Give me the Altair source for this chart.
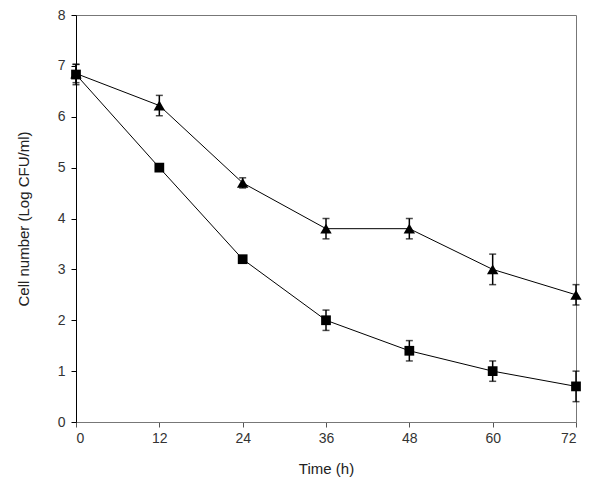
import altair as alt
import pandas as pd

time_h = [0, 12, 24, 36, 48, 60, 72]
tri_mean = [6.85, 6.22, 4.70, 3.80, 3.80, 3.00, 2.50]
tri_err = [0.18, 0.20, 0.10, 0.20, 0.20, 0.30, 0.20]
sq_mean = [6.83, 5.00, 3.20, 2.00, 1.40, 1.00, 0.70]
sq_err = [0.20, 0.06, 0.06, 0.20, 0.20, 0.20, 0.30]

rows = []
for t, m, e in zip(time_h, tri_mean, tri_err):
    rows.append({"time": t, "mean": m, "lo": m - e, "hi": m + e, "series": "tri"})
for t, m, e in zip(time_h, sq_mean, sq_err):
    rows.append({"time": t, "mean": m, "lo": m - e, "hi": m + e, "series": "sq"})
df = pd.DataFrame(rows)

xscale = alt.Scale(domain=[0, 72], nice=False, zero=False)
yscale = alt.Scale(domain=[0, 8], nice=False)

xenc = alt.X("time:Q", scale=xscale,
             axis=alt.Axis(values=time_h, title="Time (h)", grid=False,
                           tickSize=5, labelPadding=4, titlePadding=16,
                           domainColor="#777", tickColor="#555"))
yenc = alt.Y("mean:Q", scale=yscale,
             axis=alt.Axis(values=list(range(0, 9)), title="Cell number (Log CFU/ml)",
                           grid=False, tickSize=5, labelPadding=6, titlePadding=26,
                           domainColor="#000", tickColor="#000"))

base = alt.Chart(df)

lines = base.mark_line(color="black", strokeWidth=1).encode(
    x=xenc, y=yenc, detail="series:N")

bars = base.mark_rule(color="black", strokeWidth=1.5).encode(
    x="time:Q", y="lo:Q", y2="hi:Q")

caps_hi = base.mark_tick(color="black", thickness=1.5, size=7, orient="horizontal").encode(
    x="time:Q", y="hi:Q")
caps_lo = base.mark_tick(color="black", thickness=1.5, size=7, orient="horizontal").encode(
    x="time:Q", y="lo:Q")

tri = base.transform_filter(alt.datum.series == "tri").mark_point(
    shape="triangle-up", filled=True, color="black", opacity=1, size=130).encode(
    x="time:Q", y="mean:Q")
sq = base.transform_filter(alt.datum.series == "sq").mark_point(
    shape="square", filled=True, color="black", opacity=1, size=95).encode(
    x="time:Q", y="mean:Q")

chart = alt.layer(lines, bars, caps_hi, caps_lo, tri, sq).properties(
    width=500, height=407,
    autosize=alt.AutoSizeParams(type="none"),
    padding={"left": 68, "top": 7, "right": 10, "bottom": 60},
).configure_view(stroke="#777", strokeWidth=1).configure_axis(
    labelFont="Liberation Sans", titleFont="Liberation Sans",
    labelFontSize=14, titleFontSize=15, labelColor="#333", titleColor="#222",
    titleFontWeight="normal",
)

chart.save("out.html", embed_options={"renderer": "svg", "actions": False})
